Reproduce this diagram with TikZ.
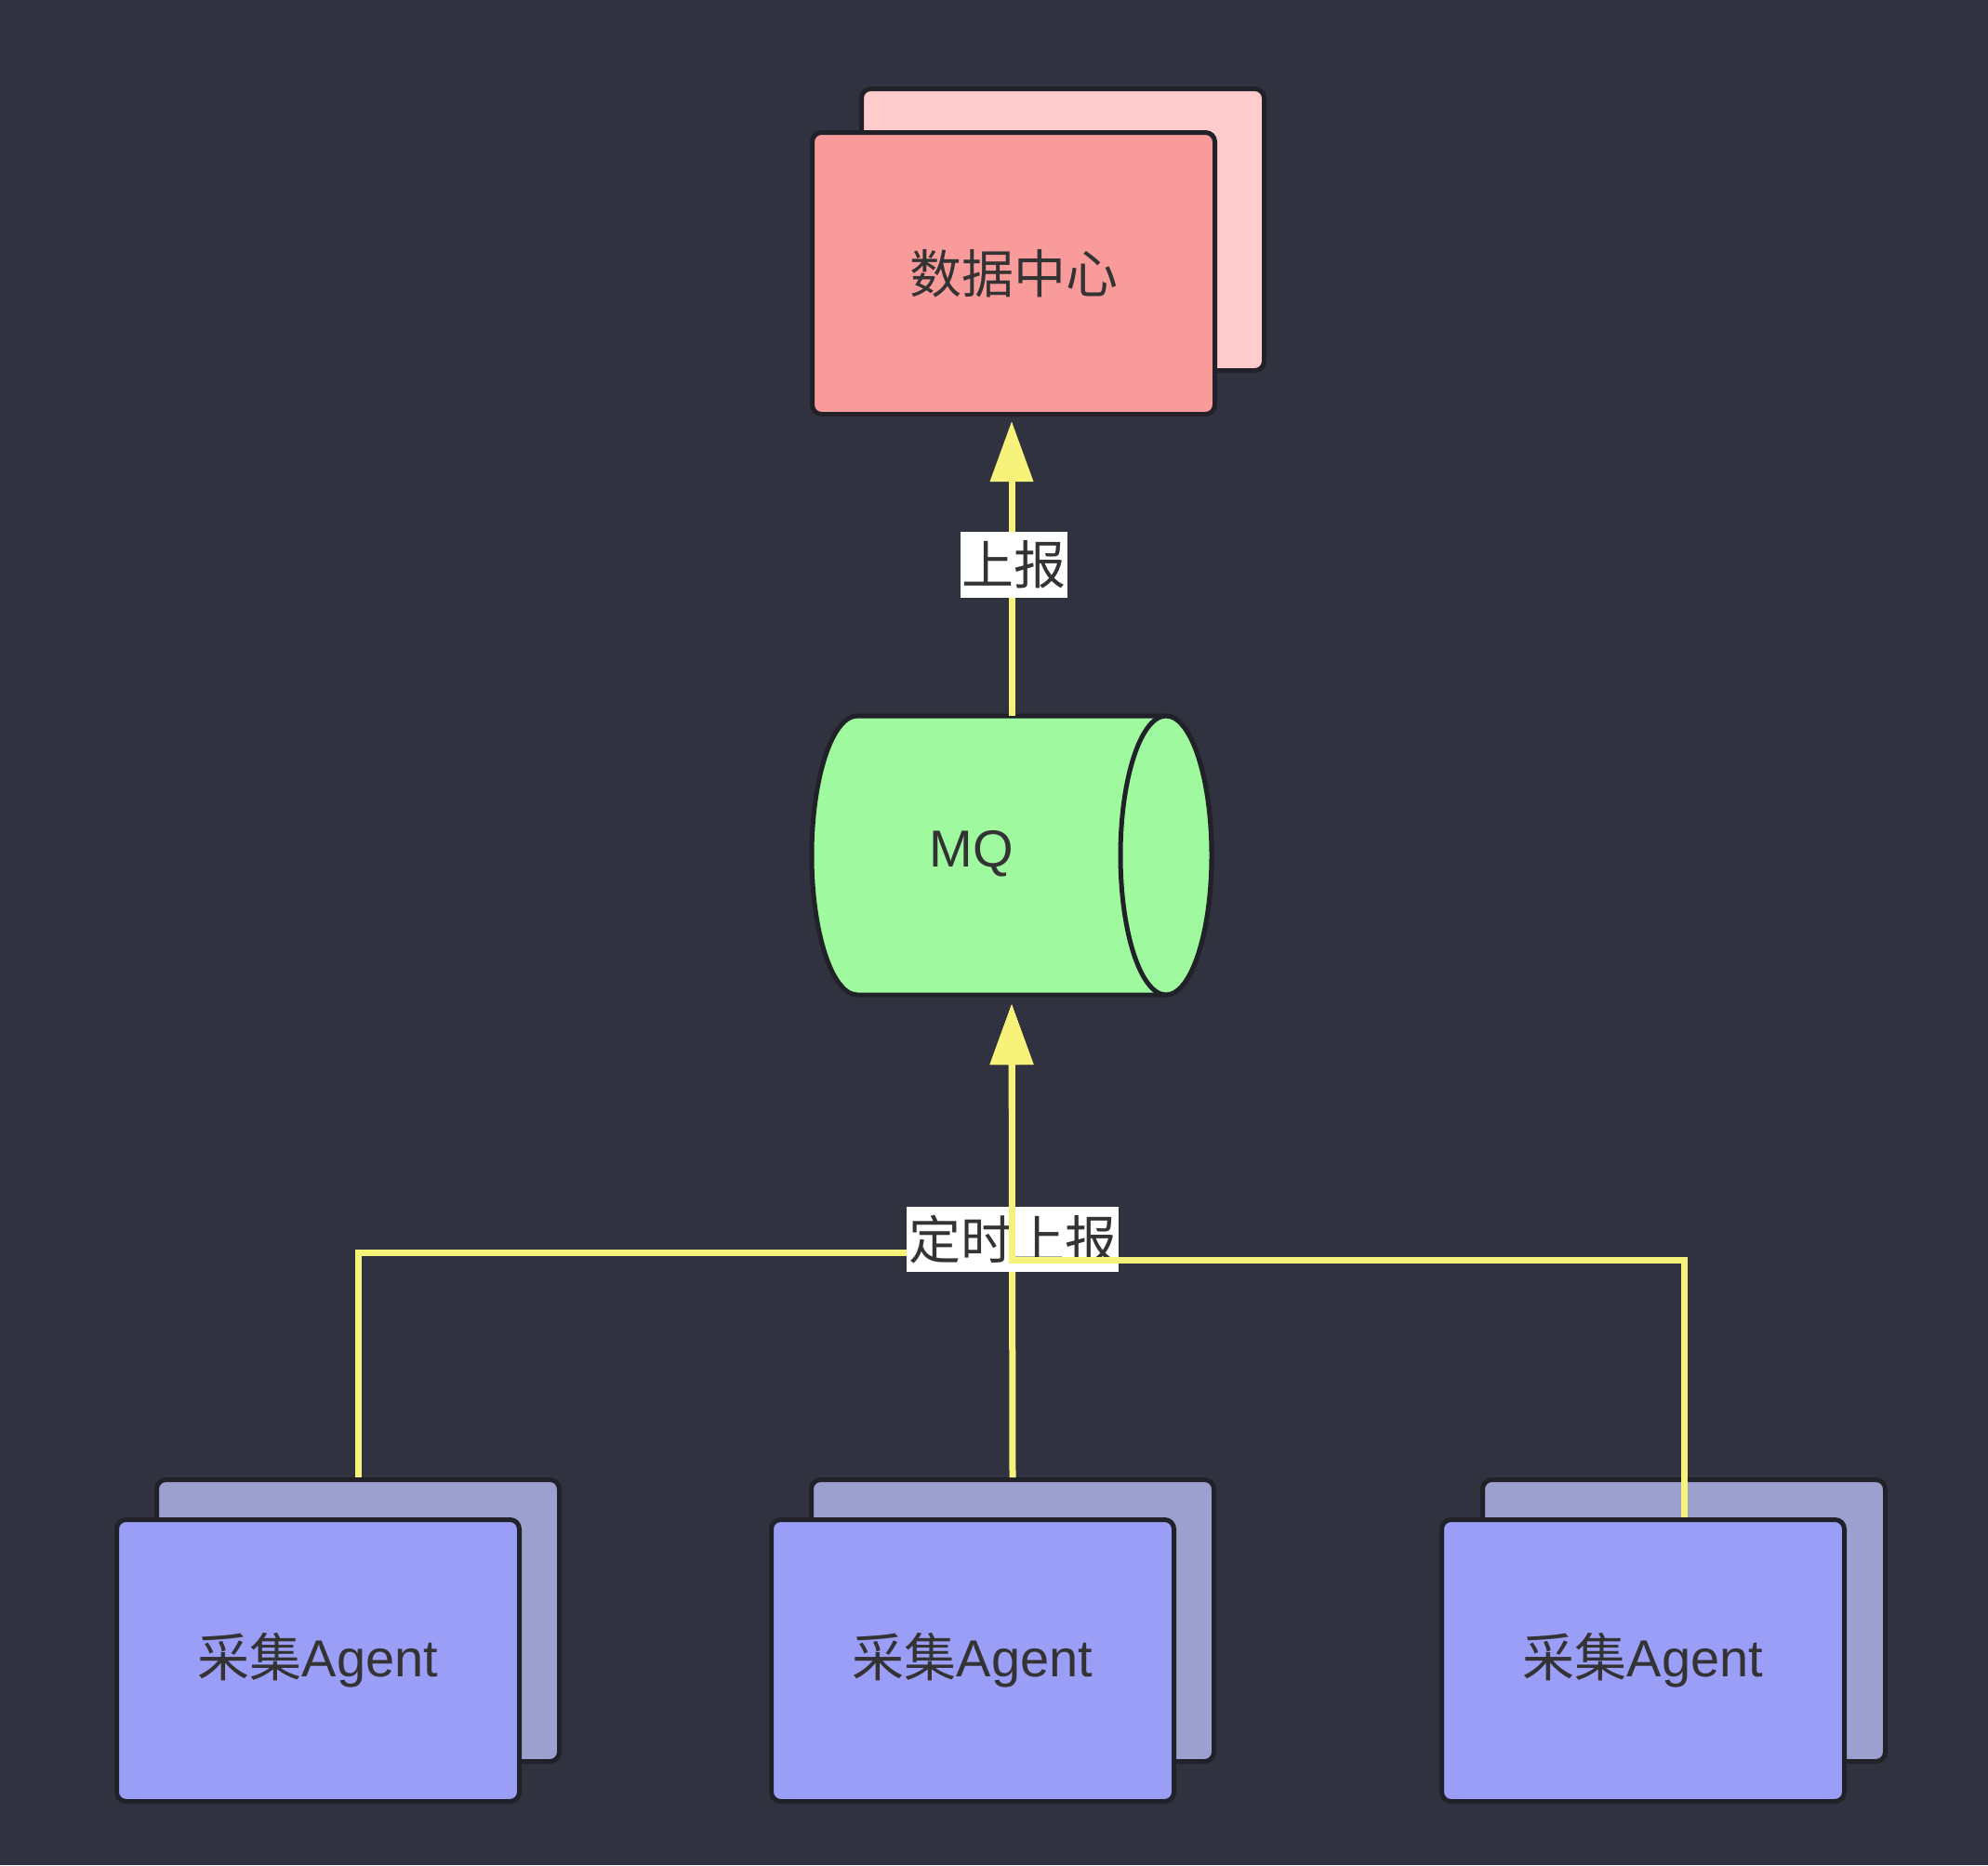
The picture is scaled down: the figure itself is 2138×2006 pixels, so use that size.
\documentclass[tikz,border=0pt]{standalone}
\usepackage{fontspec}
\newfontfamily\cjk{Noto Sans CJK SC}
\newfontfamily\lat{Liberation Sans}
\usetikzlibrary{arrows.meta}
\definecolor{bgc}{RGB}{48,50,63}
\definecolor{bord}{RGB}{33,34,41}
\definecolor{dcfront}{RGB}{249,155,155}
\definecolor{dcback}{RGB}{255,203,205}
\definecolor{mqfill}{RGB}{159,250,159}
\definecolor{agfront}{RGB}{155,158,246}
\definecolor{agback}{RGB}{156,160,206}
\definecolor{edgec}{RGB}{247,243,122}
\definecolor{txtc}{RGB}{51,51,51}
\tikzset{
  box/.style={draw=bord, line width=5pt, rounded corners=10pt, minimum width=433pt, minimum height=303pt, inner sep=0pt},
  txt/.style={font=\cjk\fontsize{56}{60}\selectfont, text=txtc, inner sep=0pt},
  lbl/.style={font=\cjk\fontsize{56}{60}\selectfont, text=txtc, fill=white, inner sep=0pt},
  conn/.style={draw=edgec, line width=7pt, -{Triangle[length=65pt,width=45pt]}}
}
\begin{document}
\begin{tikzpicture}[x=1pt,y=-1pt]
\fill[bgc] (0,0) rectangle (2138,2006);
\useasboundingbox (0,0) rectangle (2138,2006);
% data center
\node[box, fill=dcback] (dcb) at (1143,247) {};
\node[box, fill=dcfront, txt] (dc) at (1090,294) {数据中心};
% agents
\node[box, fill=agback] (a1b) at (385,1743) {};
\node[box, fill=agfront, txt] (a1) at (342,1786) {采集{\lat Agent}};
\node[box, fill=agback] (a2b) at (1089,1743) {};
\node[box, fill=agfront, txt] (a2) at (1046,1786) {采集{\lat Agent}};
\node[box, fill=agback] (a3b) at (1811,1743) {};
\node[box, fill=agfront, txt] (a3) at (1767,1786) {采集{\lat Agent}};
% MQ cylinder
\path[draw=bord, line width=5pt, fill=mqfill] (1254,770) -- (922,770)
  arc[start angle=270, end angle=90, x radius=49, y radius=150]
  -- (1254,1070)
  arc[start angle=90, end angle=-90, x radius=49, y radius=150] -- cycle;
\path[draw=bord, line width=5pt, fill=mqfill] (1254,920) ellipse [x radius=49, y radius=150];
\node[txt, font=\lat\fontsize{56}{60}\selectfont] (mq) at (1045,918) {MQ};
\coordinate (mqtop) at (1088,770);
\coordinate (mqbot) at (1088,1070);
\coordinate (ltop) at (1088,446);
% MQ -> data center
\draw[conn, shorten >=7pt] (mqtop) -- (ltop);
\node[lbl, minimum width=115pt, minimum height=71pt] (l1) at (1090,607) {上报};
% agents -> MQ
\draw[conn, shorten >=10pt] (a1b.north) -- (385,1347) -- (1088,1347) -- (mqbot);
\draw[conn, shorten >=10pt] (a2b.north) -- (mqbot);
\node[lbl, minimum width=228pt, minimum height=70pt] (l2) at (1089,1333) {定时上报};
\draw[conn, shorten >=10pt] (a3b.center |- a3.north) -- (1811,1355) -- (1088,1355) -- (mqbot);
\end{tikzpicture}
\end{document}
